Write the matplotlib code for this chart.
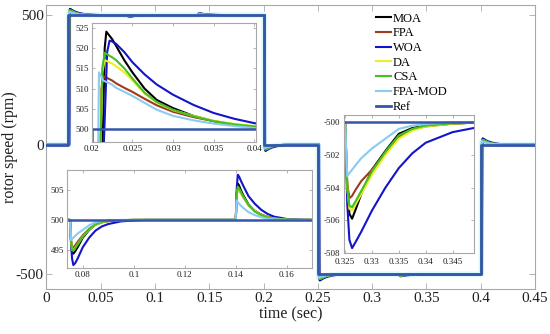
import numpy as np
import matplotlib
matplotlib.use('Agg')
import matplotlib.pyplot as plt

plt.rcParams['font.family'] = ['Liberation Serif', 'DejaVu Serif']
plt.rcParams['axes.unicode_minus'] = False

# ---------------- data ----------------
series_names = ['MOA', 'FPA', 'WOA', 'DA', 'CSA', 'FPA-MOD']
series_colors = ['#000000', '#A03A18', '#1414C8', '#EEEE20', '#44C024', '#8CCAF0']
ref_color = '#3356A8'

ref_t = [0.0, 0.02, 0.02, 0.2, 0.2, 0.25, 0.25, 0.4, 0.4, 0.45]
ref_v = [0, 0, 500, 500, 0, 0, -500, -500, 0, 0]

# speed-step transient, time after the step (s) and deviation from the new set point (rpm)
step_head_t = [
    [0.0010, 0.00135, 0.0016, 0.0018],   # MOA
    [0.0008, 0.0011, 0.0012, 0.0015],    # FPA
    [0.0012, 0.0015, 0.0019, 0.0022],    # WOA
    [0.0008, 0.0011, 0.0013, 0.0016],    # DA
    [0.0008, 0.0011, 0.0013, 0.0016],    # CSA
    [0.0005, 0.0008, 0.0009, 0.0014],    # FPA-MOD
]
step_head_v = [
    [-500, -3, 20, 24.0],
    [-500, -3, 10, 13.0],
    [-500, -3, 19, 21.8],
    [-500, -3, 14, 17.0],
    [-500, -3, 15, 18.8],
    [-500, -3, 14, 12.0],
]
step_tail_t = [0.0025, 0.003, 0.004, 0.005, 0.0065, 0.008, 0.010, 0.0125, 0.015, 0.0175, 0.020, 0.025, 0.030]
step_tail_v = [
    [22.2, 20.5, 17.0, 14.0, 10.0, 7.2, 5.2, 3.3, 2.0, 1.1, 0.6, 0.15, 0.0],
    [12.0, 11.3, 10.2, 9.2, 7.5, 5.9, 4.3, 3.0, 2.0, 1.2, 0.6, 0.15, 0.0],
    [21.6, 21.0, 19.0, 16.5, 13.5, 11.0, 8.5, 6.0, 4.0, 2.6, 1.5, 0.5, 0.1],
    [16.2, 15.5, 14.0, 12.0, 8.8, 6.6, 4.7, 3.3, 2.1, 1.3, 0.8, 0.25, 0.05],
    [17.7, 17.0, 15.0, 12.5, 9.0, 6.7, 4.8, 3.2, 2.0, 1.2, 0.7, 0.2, 0.0],
    [11.0, 10.2, 9.2, 8.2, 6.5, 4.8, 3.3, 2.2, 1.4, 0.8, 0.3, 0.05, 0.0],
]

# load transients, time after the load change (s) and deviation (rpm)
load_t = [0.0, 0.0004, 0.0008, 0.0013, 0.002, 0.003, 0.005, 0.0075, 0.010, 0.0125, 0.015, 0.020, 0.025, 0.030]
load_075 = [
    [0, -3.5, -5.3, -5.7, -5.3, -4.6, -3.0, -1.7, -0.8, -0.4, -0.2, -0.05, 0, 0],
    [0, -3.5, -4.8, -4.7, -4.3, -3.7, -2.6, -1.5, -0.8, -0.4, -0.2, -0.05, 0, 0],
    [0, -4.0, -6.5, -7.6, -7.3, -6.5, -4.6, -3.0, -1.8, -1.1, -0.7, -0.25, -0.1, 0],
    [0, -3.5, -5.0, -5.1, -4.7, -4.1, -2.8, -1.6, -0.8, -0.4, -0.2, -0.05, 0, 0],
    [0, -3.5, -5.1, -5.2, -4.8, -4.1, -2.8, -1.5, -0.75, -0.35, -0.15, -0.05, 0, 0],
    [0, -3.4, -3.2, -3.0, -2.7, -2.3, -1.7, -0.9, -0.4, -0.2, -0.1, 0, 0, 0],
]
load_140 = [
    [0, 4.5, 6.1, 5.8, 5.0, 4.1, 2.6, 1.5, 0.9, 0.5, 0.3, 0.1, 0, 0],
    [0, 4.2, 5.4, 5.1, 4.5, 3.8, 2.5, 1.5, 0.85, 0.45, 0.25, 0.05, 0, 0],
    [0, 5.5, 7.6, 7.3, 6.6, 5.7, 4.0, 2.7, 1.7, 1.0, 0.55, 0.15, 0.05, 0],
    [0, 4.2, 5.3, 5.1, 4.5, 3.8, 2.5, 1.5, 0.85, 0.45, 0.25, 0.05, 0, 0],
    [0, 4.4, 5.6, 5.3, 4.7, 3.9, 2.5, 1.4, 0.8, 0.4, 0.2, 0.05, 0, 0],
    [0, 3.3, 3.0, 2.7, 2.4, 2.0, 1.3, 0.8, 0.45, 0.2, 0.1, 0, 0, 0],
]
load_325 = [
    [0, -4.0, -5.6, -5.9, -5.3, -4.4, -2.9, -1.75, -0.7, -0.35, -0.2, -0.08, 0, 0],
    [0, -3.8, -4.65, -4.5, -4.1, -3.6, -2.9, -1.9, -0.9, -0.45, -0.25, -0.08, 0, 0],
    [0, -5.0, -7.2, -7.7, -7.3, -6.7, -5.4, -4.0, -2.8, -1.9, -1.25, -0.6, -0.28, -0.12],
    [0, -4.0, -5.3, -5.4, -5.0, -4.4, -3.2, -2.0, -1.0, -0.5, -0.25, -0.08, 0, 0],
    [0, -4.0, -5.1, -5.2, -4.8, -4.2, -3.0, -1.8, -0.8, -0.4, -0.2, -0.06, 0, 0],
    [0, -3.3, -3.1, -2.9, -2.6, -2.2, -1.6, -1.0, -0.4, -0.2, -0.1, 0, 0, 0],
]

main_xticks = [0, 0.05, 0.1, 0.15, 0.2, 0.25, 0.3, 0.35, 0.4, 0.45]
main_xticklabels = ['0', '0.05', '0.1', '0.15', '0.2', '0.25', '0.3', '0.35', '0.4', '0.45']
main_yticks = [-500, 0, 500]

in1_xticks = [0.02, 0.025, 0.03, 0.035, 0.04]
in1_xticklabels = ['0.02', '0.025', '0.03', '0.035', '0.04']
in1_yticks = [500, 505, 510, 515, 520, 525]
in2_xticks = [0.08, 0.1, 0.12, 0.14, 0.16]
in2_xticklabels = ['0.08', '0.1', '0.12', '0.14', '0.16']
in2_yticks = [495, 500, 505]
in3_xticks = [0.325, 0.33, 0.335, 0.34, 0.345]
in3_xticklabels = ['0.325', '0.33', '0.335', '0.34', '0.345']
in3_yticks = [-508, -506, -504, -502, -500]


def build_series(i):
    t, v = [0.0, 0.02], [0.0, 0.0]

    def add_step(t0, setpoint, sign):
        for tau, d in zip(step_head_t[i] + step_tail_t, step_head_v[i] + step_tail_v[i]):
            t.append(t0 + tau)
            v.append(setpoint + sign * d)

    def add_load(t0, base, dev):
        for tau, d in zip(load_t, dev):
            t.append(t0 + tau)
            v.append(base + d)

    add_step(0.02, 500, 1)
    add_load(0.075, 500, load_075[i])
    add_load(0.14, 500, load_140[i])
    t.append(0.2); v.append(500)
    add_step(0.2, 0, -1)
    t.append(0.25); v.append(0)
    add_step(0.25, -500, -1)
    add_load(0.325, -500, load_325[i])
    t.append(0.4); v.append(-500)
    add_step(0.4, 0, 1)
    t.append(0.45); v.append(0)
    return np.array(t), np.array(v)


W, H = 550, 334
fig = plt.figure(figsize=(W / 100, H / 100), dpi=100)

spine_col = '#A8A8A8'
txt_col = '#202020'


def px_axes(l, r, t, b):
    return fig.add_axes([l / W, 1 - b / H, (r - l) / W, (b - t) / H])


def style(ax, fs, tl):
    for s in ax.spines.values():
        s.set_color(spine_col)
        s.set_linewidth(0.8)
    ax.tick_params(direction='in', top=True, right=True, length=tl, width=0.6,
                   color=spine_col, labelsize=fs, labelcolor=txt_col, pad=2)


ax = px_axes(46.3, 535, 4.7, 289)
data = [build_series(i) for i in range(len(series_names))]

# faint halo of the FPA-MOD trace
ax.plot(data[5][0], data[5][1], color='#DDF8FC', lw=4, zorder=1)
for i, name in enumerate(series_names):
    ax.plot(data[i][0], data[i][1], color=series_colors[i], lw=1.5, label=name, zorder=2)
ax.plot(ref_t, ref_v, color=ref_color, lw=2.0, label='Ref', zorder=3)
ax.set_xlim(0, 0.45)
ax.set_ylim(-557, 540)
ax.set_xticks(main_xticks)
ax.set_xticklabels(main_xticklabels)
ax.set_yticks(main_yticks)
style(ax, 11, 4)
ax.set_xlabel('time (sec)', fontsize=11.5, color=txt_col, labelpad=1)
ax.set_ylabel('rotor speed (rpm)', fontsize=11.5, color=txt_col, labelpad=-2)

leg = ax.legend(loc='upper left', bbox_to_anchor=(368 / W, 1 - 5 / H), bbox_transform=fig.transFigure,
                frameon=False, fontsize=9, handlelength=1.2, handletextpad=0.2,
                labelspacing=0.22, borderpad=0.1)


def inset(l, r, t, b, xlim, ylim, xt, xtl, yt):
    a = px_axes(l, r, t, b)
    for i in range(len(series_names)):
        a.plot(data[i][0], data[i][1], color=series_colors[i], lw=1.5)
    a.plot(ref_t, ref_v, color=ref_color, lw=1.8)
    a.set_xlim(*xlim)
    a.set_ylim(*ylim)
    a.set_xticks(xt)
    a.set_xticklabels(xtl)
    a.set_yticks(yt)
    style(a, 6.5, 2.5)
    a.set_facecolor('white')
    return a


inset(91.7, 256, 22.7, 142.3, (0.02, 0.0402), (496.8, 526.2), in1_xticks, in1_xticklabels, in1_yticks)
inset(66.7, 312, 170, 268, (0.0737, 0.1699), (491.9, 508.4), in2_xticks, in2_xticklabels, in2_yticks)
a3 = inset(343.5, 474, 115, 253, (0.3247, 0.349), (-508.0, -499.55), in3_xticks, in3_xticklabels, in3_yticks)
a3.tick_params(axis='x', pad=3.5)
a3.tick_params(axis='y', pad=2.5)

fig.savefig('out.png', dpi=100)
